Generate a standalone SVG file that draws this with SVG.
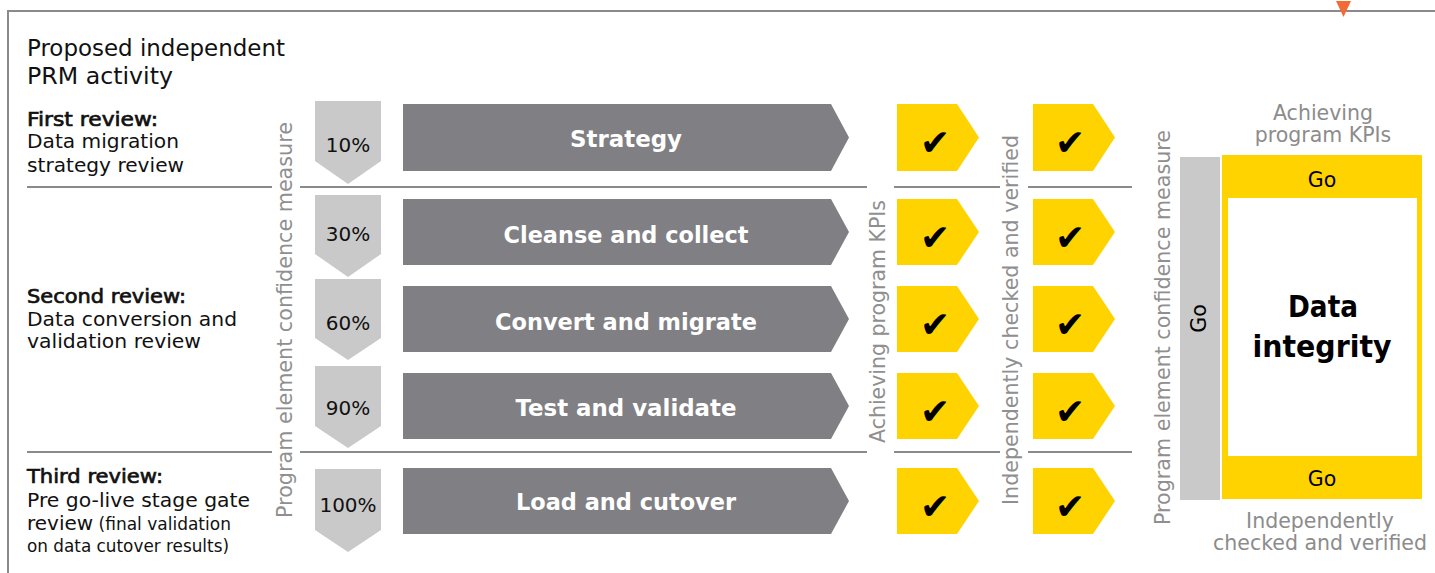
<svg xmlns="http://www.w3.org/2000/svg" width="1435" height="573" viewBox="0 0 1435 573">
<style>
text{font-family:"DejaVu Sans","Liberation Sans",sans-serif}
.frame{stroke:#8a8a8a;stroke-width:2;fill:none}
.sep{stroke:#8a8a8a;stroke-width:2}
.pct{fill:#c9c9c9}
.bar{fill:#807f84}
.yel{fill:#ffd300}
.ptxt{font-size:20px;fill:#111;text-anchor:middle}
.btxt{font-size:23px;font-weight:bold;fill:#fff;text-anchor:middle}
.chk{font-size:36px;fill:#000;text-anchor:middle}
.vt{font-size:20.5px;fill:#8f8f8f;text-anchor:middle}
.lbl{font-size:20px;fill:#111}
.lblb{font-size:20px;fill:#111;stroke:#111;stroke-width:0.7}
.sm{font-size:17px}
.gray{font-size:20.5px;fill:#8c8c8c;text-anchor:middle}
.go{font-size:20.5px;fill:#000;text-anchor:middle}
</style>
<g id="frame">
<path class="frame" d="M8,573 V11 H1435"/>
<g class="sep">
<line x1="27" y1="187" x2="272" y2="187"/><line x1="300" y1="187" x2="867" y2="187"/><line x1="894" y1="187" x2="1000" y2="187"/><line x1="1028" y1="187" x2="1132" y2="187"/>
<line x1="27" y1="452" x2="272" y2="452"/><line x1="300" y1="452" x2="867" y2="452"/><line x1="894" y1="452" x2="1000" y2="452"/><line x1="1028" y1="452" x2="1132" y2="452"/>
</g>
</g>
<g id="connectors">
<path d="M1336,1 H1351 L1343.5,17 Z" fill="#f26b35"/>
</g>
<g id="title">
<text x="27" y="56" style="font-size:23px;fill:#111" textLength="258" lengthAdjust="spacingAndGlyphs">Proposed independent</text>
<text x="27" y="84" style="font-size:23px;fill:#111" textLength="146" lengthAdjust="spacingAndGlyphs">PRM activity</text>
</g>
<g id="review1">
<text class="lblb" x="27" y="126" textLength="131" lengthAdjust="spacingAndGlyphs">First review:</text>
<text class="lbl" x="27" y="148" textLength="152" lengthAdjust="spacingAndGlyphs">Data migration</text>
<text class="lbl" x="27" y="172" textLength="157" lengthAdjust="spacingAndGlyphs">strategy review</text>
</g>
<g id="review2">
<text class="lblb" x="27" y="303" textLength="159" lengthAdjust="spacingAndGlyphs">Second review:</text>
<text class="lbl" x="27" y="326" textLength="210" lengthAdjust="spacingAndGlyphs">Data conversion and</text>
<text class="lbl" x="27" y="348" textLength="174" lengthAdjust="spacingAndGlyphs">validation review</text>
</g>
<g id="review3">
<text class="lblb" x="27" y="483" textLength="136" lengthAdjust="spacingAndGlyphs">Third review:</text>
<text class="lbl" x="27" y="507" textLength="223" lengthAdjust="spacingAndGlyphs">Pre go-live stage gate</text>
<text class="lbl" x="27" y="530">review<tspan class="sm"> (final validation</tspan></text>
<text class="lbl sm" x="27" y="552" textLength="202" lengthAdjust="spacingAndGlyphs">on data cutover results)</text>
</g>
<g id="label-confidence-left">
<text class="vt" transform="translate(292,320) rotate(-90)" textLength="396" lengthAdjust="spacingAndGlyphs">Program element confidence measure</text>
</g>
<g id="pct-10"><path class="pct" d="M315,101 H381 V161 L348,184 L315,161 Z"/><text class="ptxt" x="348" y="152">10%</text></g>
<g id="pct-30"><path class="pct" d="M315,195 H381 V254 L348,277 L315,254 Z"/><text class="ptxt" x="348" y="241">30%</text></g>
<g id="pct-60"><path class="pct" d="M315,279 H381 V338 L348,360 L315,338 Z"/><text class="ptxt" x="348" y="330">60%</text></g>
<g id="pct-90"><path class="pct" d="M315,366 H381 V426 L348,448 L315,426 Z"/><text class="ptxt" x="348" y="415">90%</text></g>
<g id="pct-100"><path class="pct" d="M315,469 H381 V530 L348,552 L315,530 Z"/><text class="ptxt" x="348" y="512">100%</text></g>
<g id="bar-strategy"><path class="bar" d="M403,104 H831 L849,137.5 L831,171 H403 Z"/><text class="btxt" x="626" y="147" textLength="112" lengthAdjust="spacingAndGlyphs">Strategy</text></g>
<g id="bar-cleanse"><path class="bar" d="M403,199 H831 L849,232 L831,265 H403 Z"/><text class="btxt" x="626" y="243" textLength="245" lengthAdjust="spacingAndGlyphs">Cleanse and collect</text></g>
<g id="bar-convert"><path class="bar" d="M403,286 H831 L849,319 L831,352 H403 Z"/><text class="btxt" x="626" y="330" textLength="262" lengthAdjust="spacingAndGlyphs">Convert and migrate</text></g>
<g id="bar-test"><path class="bar" d="M403,373 H831 L849,406 L831,439 H403 Z"/><text class="btxt" x="626" y="416" textLength="221" lengthAdjust="spacingAndGlyphs">Test and validate</text></g>
<g id="bar-load"><path class="bar" d="M403,468 H831 L849,501 L831,534 H403 Z"/><text class="btxt" x="626" y="510" textLength="220" lengthAdjust="spacingAndGlyphs">Load and cutover</text></g>
<g id="label-kpi">
<text class="vt" transform="translate(885,321.5) rotate(-90)" textLength="243" lengthAdjust="spacingAndGlyphs">Achieving program KPIs</text>
</g>
<g id="label-verified">
<text class="vt" transform="translate(1018,320) rotate(-90)" textLength="370" lengthAdjust="spacingAndGlyphs">Independently checked and verified</text>
</g>
<g id="kpi-checks">
<path class="yel" d="M897,104 H957 L979,137.5 L957,171 H897 Z"/><text class="chk" x="935" y="155">✔</text>
<path class="yel" d="M897,199 H957 L979,232 L957,265 H897 Z"/><text class="chk" x="935" y="250">✔</text>
<path class="yel" d="M897,286 H957 L979,319 L957,352 H897 Z"/><text class="chk" x="935" y="337">✔</text>
<path class="yel" d="M897,373 H957 L979,406 L957,439 H897 Z"/><text class="chk" x="935" y="424">✔</text>
<path class="yel" d="M897,468 H957 L979,501 L957,534 H897 Z"/><text class="chk" x="935" y="519">✔</text>
</g>
<g id="verified-checks">
<path class="yel" d="M1033,104 H1093 L1115,137.5 L1093,171 H1033 Z"/><text class="chk" x="1070" y="155">✔</text>
<path class="yel" d="M1033,199 H1093 L1115,232 L1093,265 H1033 Z"/><text class="chk" x="1070" y="250">✔</text>
<path class="yel" d="M1033,286 H1093 L1115,319 L1093,352 H1033 Z"/><text class="chk" x="1070" y="337">✔</text>
<path class="yel" d="M1033,373 H1093 L1115,406 L1093,439 H1033 Z"/><text class="chk" x="1070" y="424">✔</text>
<path class="yel" d="M1033,468 H1093 L1115,501 L1093,534 H1033 Z"/><text class="chk" x="1070" y="519">✔</text>
</g>
<g id="label-confidence-right">
<text class="vt" transform="translate(1170,327.5) rotate(-90)" textLength="395" lengthAdjust="spacingAndGlyphs">Program element confidence measure</text>
</g>
<g id="go-gray">
<rect x="1180" y="157" width="40" height="343" fill="#c9c9c9"/>
<text class="go" transform="translate(1206,318.5) rotate(-90)">Go</text>
</g>
<g id="data-integrity">
<text class="gray" x="1323" y="120">Achieving</text>
<text class="gray" x="1323" y="142">program KPIs</text>
<rect x="1222" y="155" width="200" height="344" fill="#ffd300"/>
<rect x="1228" y="198" width="189" height="258" fill="#fff"/>
<text class="go" x="1322" y="187">Go</text>
<text class="go" x="1322" y="486">Go</text>
<text x="1323" y="317" style="font-size:30px;font-weight:bold;fill:#000;text-anchor:middle" textLength="70" lengthAdjust="spacingAndGlyphs">Data</text>
<text x="1322" y="357" style="font-size:30px;font-weight:bold;fill:#000;text-anchor:middle" textLength="139" lengthAdjust="spacingAndGlyphs">integrity</text>
<text class="gray" x="1320" y="528">Independently</text>
<text class="gray" x="1320" y="550">checked and verified</text>
</g>
</svg>
